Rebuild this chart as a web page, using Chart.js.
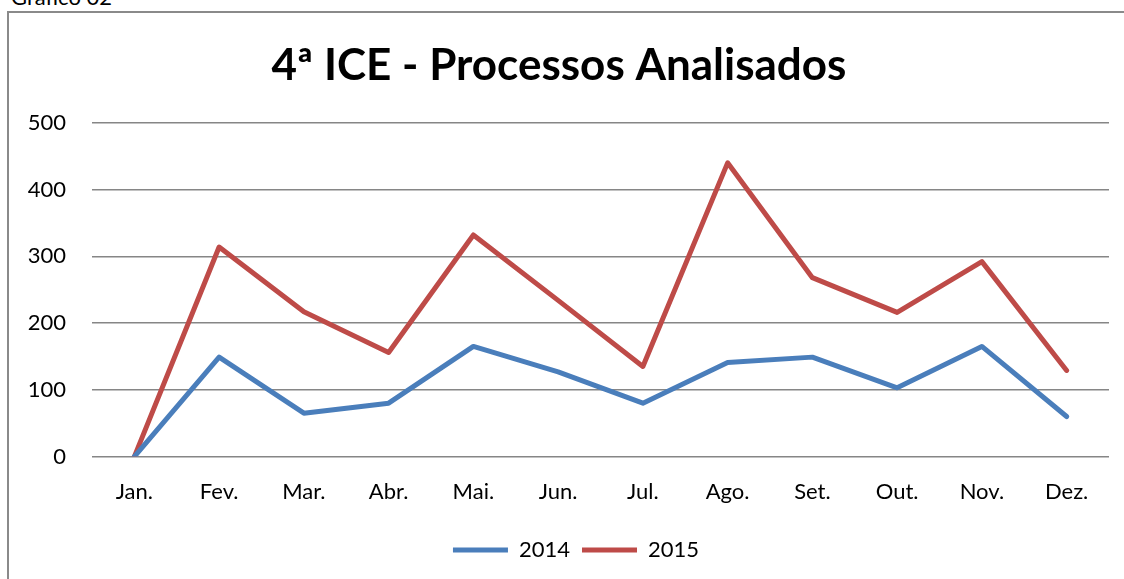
<!DOCTYPE html>
<html>
<head>
<meta charset="utf-8">
<title>4ª ICE - Processos Analisados</title>
<script src="https://cdn.jsdelivr.net/npm/chart.js"></script>
<style>
    html, body { margin: 0; padding: 0; background: #fff; overflow: hidden; width: 1124px; height: 579px; }
    #caption { position: absolute; left: 11px; top: -14px; font: 22px Lato, sans-serif; line-height: 22px; color: #000; }
    #box { position: absolute; left: 7px; top: 11px; width: 1130px; height: 580px; border: 2px solid #8a8a8a; box-sizing: border-box; }
    #wrap { position: absolute; left: 0; top: 0; width: 1117px; height: 568px; }
</style>
</head>
<body>
<div id="caption">Gráfico 02</div>
<div id="box">
    <div id="wrap"><canvas id="chart"></canvas></div>
</div>

<script>
// months on the x axis
const months = ['Jan.', 'Fev.', 'Mar.', 'Abr.', 'Mai.', 'Jun.', 'Jul.', 'Ago.', 'Set.', 'Out.', 'Nov.', 'Dez.'];

// values
const values2014 = [0, 149, 65, 80, 165, 127, 80, 141, 149, 103, 165, 60];
const values2015 = [0, 314, 217, 156, 332, 234, 135, 440, 268, 216, 292, 129];

const yTicks = [0, 100, 200, 300, 400, 500];

const blue = '#4a7ebb';
const red = '#be4b48';

// excel centres the legend a bit more to the right
const shiftLegend = {
    id: 'shiftLegend',
    afterLayout(chart) {
        if (chart.legend) {
            chart.legend.left += 17;
            chart.legend.right += 17;
        }
    }
};

function displayChart() {
    const ctx = document.getElementById('chart').getContext('2d');
    new Chart(ctx, {
        type: 'line',
        data: {
            labels: months,
            datasets: [{
                label: '2014',
                data: values2014,
                borderColor: blue,
                backgroundColor: blue,
                borderWidth: 5,
                pointRadius: 0,
                borderCapStyle: 'round',
                borderJoinStyle: 'round',
                tension: 0
            }, {
                label: '2015',
                data: values2015,
                borderColor: red,
                backgroundColor: red,
                borderWidth: 5,
                pointRadius: 0,
                borderCapStyle: 'round',
                borderJoinStyle: 'round',
                tension: 0
            }]
        },
        options: {
            responsive: true,
            maintainAspectRatio: false,
            animation: false,
            layout: { padding: { left: 0, right: 17, top: 0, bottom: 10 } },
            scales: {
                x: {
                    offset: true,
                    grid: { display: false, drawTicks: false },
                    border: { display: false },
                    ticks: { color: '#000', font: { family: 'Lato', size: 22 }, padding: 22, maxRotation: 0 }
                },
                y: {
                    min: 0,
                    max: 500,
                    afterBuildTicks: scale => { scale.ticks = yTicks.map(v => ({ value: v })); },
                    afterFit: scale => { scale.width = 83; },
                    grid: { color: '#868686', lineWidth: 1.5, drawTicks: false },
                    border: { display: false },
                    ticks: { color: '#000', font: { family: 'Lato', size: 22 }, padding: 26 }
                }
            },
            plugins: {
                title: {
                    display: true,
                    text: '4ª ICE - Processos Analisados',
                    color: '#000',
                    font: { family: 'Lato', size: 44, weight: 'bold' },
                    padding: { top: 26, bottom: 31 }
                },
                legend: {
                    position: 'bottom',
                    labels: {
                        color: '#000',
                        font: { family: 'Lato', size: 22 },
                        boxWidth: 55,
                        boxHeight: 5,
                        padding: 12,
                        generateLabels: chart => chart.data.datasets.map((ds, i) => ({
                            text: ds.label,
                            fillStyle: ds.borderColor,
                            strokeStyle: ds.borderColor,
                            lineWidth: 0,
                            datasetIndex: i
                        }))
                    }
                },
                tooltip: { enabled: false }
            }
        },
        plugins: [shiftLegend]
    });
}

window.onload = function () {
    displayChart();
};
</script>
</body>
</html>
